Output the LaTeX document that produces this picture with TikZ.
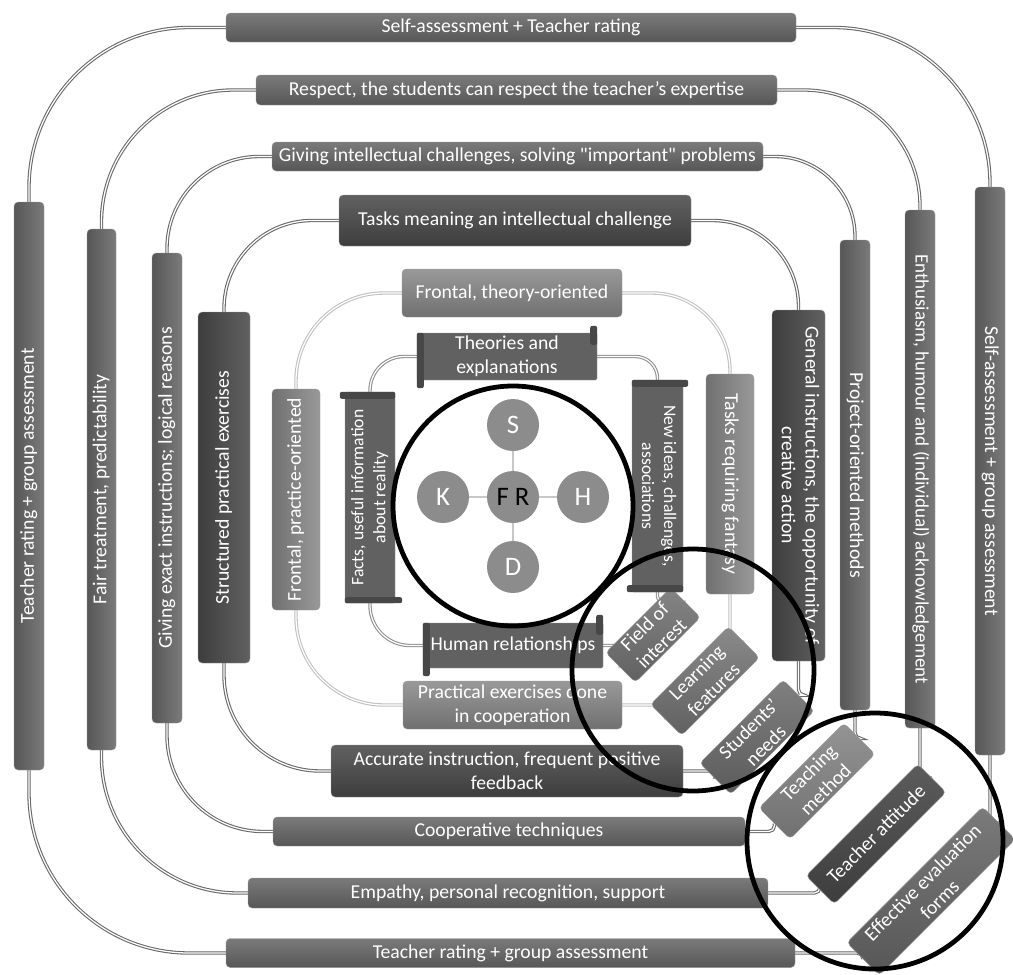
\documentclass[tikz,border=0pt]{standalone}
\usepackage{fontspec}
\setmainfont{Carlito}[Ligatures=TeXOff]
\usepackage{tikz}
\usetikzlibrary{shapes,arrows.meta,positioning,backgrounds}

\newcommand{\px}{0.025cm}
\newcommand{\barfont}{\fontsize{14}{17}\selectfont}
\newcommand{\smallbarfont}{\fontsize{12.5}{15.5}\selectfont}
\newcommand{\letterfont}{\fontsize{19}{22}\selectfont}
\newcommand{\vtext}[2]{\rotatebox{#1}{\begin{tabular}{@{}c@{}}#2\end{tabular}}}

\tikzset{
  dims/.style 2 args={minimum width=#1*\px, minimum height=#2*\px},
  barbase/.style={rounded corners=3pt, draw=black!40, line width=0.3pt, text=white, font=\barfont, align=center, inner sep=1pt},
  hbar/.style 2 args={barbase, top color=black!#1, bottom color=black!#2},
  vbar/.style 2 args={barbase, left color=black!#2, right color=black!#1},
  diagbox/.style 2 args={barbase, rotate=45, top color=black!#1, bottom color=black!#2},
  scrollbox/.style={barbase, rounded corners=1pt, fill=black!62},
  roll/.style={fill=black!72, rounded corners=1.5pt},
  conn/.style={draw=black!60, double=white, double distance=0.9pt, line width=0.75pt},
  connlight/.style={conn, draw=black!25},
  connmid/.style={conn, draw=black!45},
  letter/.style={circle, fill=black!45, text=white, font=\letterfont, minimum size=52*\px, inner sep=0pt},
  spoke/.style={draw=black!22, line width=1pt},
  ring/.style={circle, draw=black, line width=3.4pt, inner sep=0pt, minimum size=#1*\px},
}

\begin{document}
\begin{tikzpicture}[x=\px, y=\px]
\useasboundingbox (0,0) rectangle (1013,-974);

% Loop 1 (outer)
\node[hbar={52}{66}, dims={570}{29}] (top1) at (511,-27.5) {Self-assessment + Teacher rating};
\node[vbar={52}{66}, dims={30}{568}] (left1) at (29,-486) {\vtext{90}{Teacher rating + group assessment}};
\node[vbar={52}{66}, dims={30}{568}] (right1) at (990,-471) {\vtext{-90}{Self-assessment + group assessment}};
\node[hbar={52}{66}, dims={569}{29}] (bot1) at (510.5,-953) {Teacher rating + group assessment};
\node[diagbox={52}{66}, dims={192}{46}] (diag1) at (931,-891) {Effective evaluation\\forms};

% Loop 2
\node[hbar={52}{66}, dims={521}{30}] (top2) at (516.5,-90) {Respect, the students can respect the teacher’s expertise};
\node[vbar={52}{66}, dims={29}{521}] (left2) at (101.5,-489.5) {\vtext{90}{Fair treatment, predictability}};
\node[vbar={52}{66}, dims={30}{518}, font=\fontsize{13.5}{16}\selectfont] (right2) at (920,-469) {\vtext{-90}{Enthusiasm, humour and (individual) acknowledgement}};
\node[hbar={52}{66}, dims={520}{30}] (bot2) at (508,-893) {Empathy, personal recognition, support};
\node[diagbox={64}{76}, dims={158}{40}] (diag2) at (876,-834) {Teacher attitude};

% Loop 3
\node[hbar={52}{66}, dims={491}{29}] (top3) at (517.5,-156.5) {Giving intellectual challenges, solving "important" problems};
\node[vbar={52}{66}, dims={30}{470}] (left3) at (167,-488) {\vtext{90}{Giving exact instructions; logical reasons}};
\node[vbar={52}{66}, dims={30}{470}] (right3) at (855,-475) {\vtext{-90}{Project-oriented methods}};
\node[hbar={52}{66}, dims={472}{29}] (bot3) at (509,-831.5) {Cooperative techniques};
\node[diagbox={42}{56}, dims={120}{44}] (diag3) at (817,-781) {Teaching\\method};

% Loop 4
\node[hbar={62}{76}, dims={352}{51}] (top4) at (515,-220.5) {Tasks meaning an intellectual challenge};
\node[vbar={62}{76}, dims={52}{351}] (left4) at (224,-487.5) {\vtext{90}{Structured practical exercises}};
\node[vbar={62}{76}, dims={53}{351}] (right4) at (798.5,-485.5) {\vtext{-90}{General instructions, the opportunity of\\creative action}};
\node[hbar={62}{76}, dims={352}{52}] (bot4) at (507,-771) {Accurate instruction, frequent positive\\feedback};
\node[diagbox={50}{64}, dims={118}{44}] (diag4) at (757,-737) {Students’\\needs};

% Loop 5 (light)
\node[hbar={40}{56}, dims={220}{48}] (top5) at (512,-293) {Frontal, theory-oriented};
\node[vbar={40}{56}, dims={48}{221}] (left5) at (296,-499.5) {\vtext{90}{Frontal, practice-oriented}};
\node[vbar={40}{56}, dims={48}{220}] (right5) at (730,-484) {\vtext{-90}{Tasks requiring fantasy}};
\node[hbar={40}{56}, dims={219}{48}] (bot5) at (512.5,-705) {Practical exercises done\\in cooperation};
\node[diagbox={46}{62}, dims={110}{44}] (diag5) at (705,-681) {Learning\\features};

% Loop 6 (scrolls)
\node[scrollbox, dims={180}{47}] (top6) at (507,-356.5) {Theories and\\explanations};
\node[scrollbox, dims={50}{211}, font=\smallbarfont] (left6) at (370,-497.5) {\vtext{90}{Facts, useful information\\about reality}};
\node[scrollbox, dims={51}{212}, font=\smallbarfont] (right6) at (657.5,-486) {\vtext{-90}{New ideas, challenges,\\associations}};
\node[scrollbox, dims={180}{45}] (bot6) at (513,-645.5) {Human relationships};
\node[diagbox={48}{62}, dims={92}{42}] (diag6) at (653,-635) {Field of\\interest};
% rolled ends
\fill[roll] (top6.north west) rectangle ([shift={(7,-8)}]top6.south west);
\fill[roll] ([shift={(-7,7)}]top6.north east) rectangle ([shift={(0,-12)}]top6.north east);
\fill[roll] ([shift={(-5,0)}]left6.north west) rectangle ([shift={(0,-7)}]left6.north east);
\fill[roll] ([shift={(0,6)}]left6.south west) rectangle ([shift={(7,0)}]left6.south east);
\fill[roll] (right6.north west) rectangle ([shift={(5,-7)}]right6.north east);
\fill[roll] ([shift={(-5,7)}]right6.south west) rectangle (right6.south east);
\fill[roll] (bot6.north west) rectangle ([shift={(7,-8)}]bot6.south west);
\fill[roll] ([shift={(-7,8)}]bot6.north east) rectangle ([shift={(0,-12)}]bot6.north east);

% Centre
\node[letter, text=black] (fr) at (513,-497) {F R};
\node[letter] (s) at (513,-425) {S};
\node[letter] (k) at (443,-497) {K};
\node[letter] (h) at (583,-497) {H};
\node[letter] (d) at (513,-567) {D};
\draw[spoke] (fr) -- (s);
\draw[spoke] (fr) -- (k);
\draw[spoke] (fr) -- (h);
\draw[spoke] (fr) -- (d);

% Connectors behind the bars
\begin{scope}[on background layer]
\draw[conn, rounded corners=4cm] (top1.west) -| (left1.north);
\draw[conn, rounded corners=3.9cm] (top1.east) -| (right1.north);
\draw[conn, rounded corners=4cm] (left1.south) |- (bot1.west);
\draw[conn, rounded corners=4pt] (right1.south) |- (diag1.east);
\draw[conn, rounded corners=4pt] (bot1.east) -| (diag1.west);

\draw[conn, rounded corners=3.3cm] (top2.west) -| (left2.north);
\draw[conn, rounded corners=2.9cm] (top2.east) -| (right2.north);
\draw[conn, rounded corners=3.4cm] (left2.south) |- (bot2.west);
\draw[conn, rounded corners=4pt] (right2.south) |- (diag2.east);
\draw[conn, rounded corners=4pt] (bot2.east) -| (diag2.west);

\draw[conn, rounded corners=2.3cm] (top3.west) -| (left3.north);
\draw[conn, rounded corners=2cm] (top3.east) -| (right3.north);
\draw[conn, rounded corners=2.4cm] (left3.south) |- (bot3.west);
\draw[conn, rounded corners=4pt] (right3.south) |- (diag3.east);
\draw[conn, rounded corners=4pt] (bot3.east) -| (diag3.west);

\draw[conn, rounded corners=2.2cm] (top4.west) -| (left4.north);
\draw[conn, rounded corners=2.15cm] (top4.east) -| (right4.north);
\draw[conn, rounded corners=2.4cm] (left4.south) |- (bot4.west);
\draw[conn, rounded corners=4pt] (right4.south) |- (diag4.east);
\draw[conn, rounded corners=4pt] (bot4.east) -| (diag4.west);

\draw[connlight, rounded corners=2.2cm] (top5.west) -| (left5.north);
\draw[connlight, rounded corners=1.95cm] (top5.east) -| (right5.north);
\draw[connlight, rounded corners=2.2cm] (left5.south) |- (bot5.west);
\draw[connlight, rounded corners=4pt] (right5.south) |- (diag5.east);
\draw[connlight, rounded corners=4pt] (bot5.east) -| (diag5.west);

\draw[connmid, rounded corners=0.85cm] (top6.west) -| (left6.north);
\draw[connmid, rounded corners=0.55cm] (top6.east) -| (right6.north);
\draw[connmid, rounded corners=1cm] (left6.south) |- (bot6.west);
\draw[connmid, rounded corners=4pt] (right6.south) |- (diag6.east);
\draw[connmid, rounded corners=4pt] (bot6.east) -| (diag6.west);
\end{scope}

% Black rings
\node[ring=240] (ring1) at (513,-506) {};
\node[ring=242] (ring2) at (693,-670) {};
\node[ring=256] (ring3) at (875,-841) {};
\end{tikzpicture}
\end{document}
